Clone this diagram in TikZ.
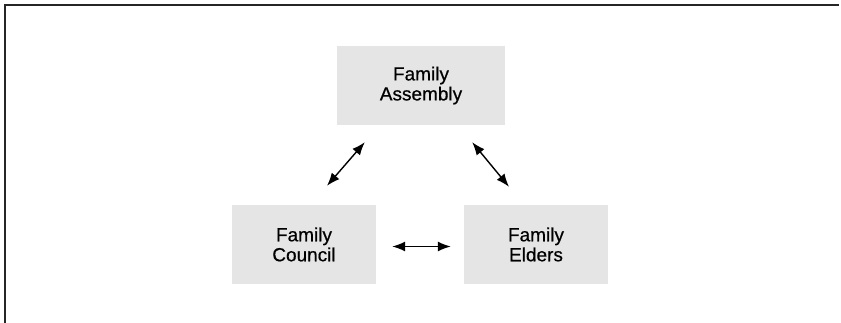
\documentclass[tikz,border=0pt]{standalone}
\usepackage{fontspec}
\setmainfont{Liberation Sans}
\newfontfamily\unitfont{Liberation Sans}[FakeBold=0.6]
\usetikzlibrary{arrows.meta}
\begin{document}
\begin{tikzpicture}[x=1pt,y=-1pt,
  unit/.style={fill=black!10, draw=none, minimum height=79pt, align=center,
    inner sep=0pt, font=\unitfont\fontsize{19}{20}\selectfont},
  tip/.tip={Latex[length=13pt,width=10pt]},
  link/.style={line width=1.4pt, tip-tip},
  frame/.style={line width=1.4pt, black!85}]
  \useasboundingbox (0,0) rectangle (841,323);
  % open frame: top and left edges only
  \coordinate (ftl) at (5,5);
  \coordinate (ftr) at (839,5);
  \coordinate (fbl) at (5,323);
  \draw[frame] (fbl) -- (ftl) -- (ftr);
  % governance bodies
  \node[unit, minimum width=168pt] (assembly) at (421,85.5) {Family\\Assembly};
  \node[unit, minimum width=144pt] (council) at (304,244.5) {Family\\Council};
  \node[unit, minimum width=144pt] (elders) at (536,244.5) {Family\\Elders};
  % two-way relations
  \draw[link] ([shift={(23,-19)}]council.north) -- ([shift={(28,17)}]assembly.south west);
  \draw[link] ([shift={(-33,17)}]assembly.south east) -- ([shift={(-27,-18)}]elders.north);
  \draw[link] ([shift={(16,2)}]council.east) -- ([shift={(-13,2)}]elders.west);
\end{tikzpicture}
\end{document}
